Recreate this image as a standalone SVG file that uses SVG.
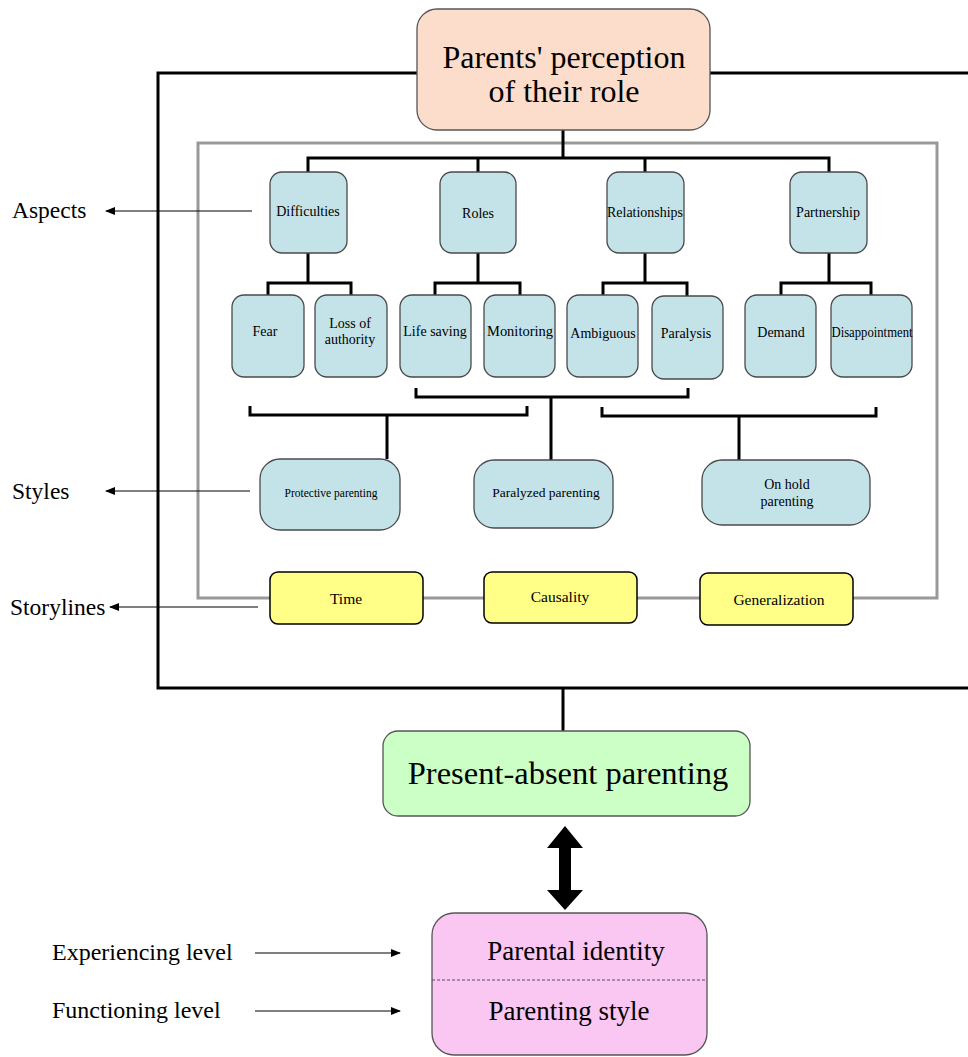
<svg xmlns="http://www.w3.org/2000/svg" width="968" height="1057" viewBox="0 0 968 1057" font-family="'Liberation Serif', 'DejaVu Serif', serif">
<style>
text{font-family:'Liberation Serif','DejaVu Serif',serif;fill:#000;text-anchor:middle}
.lbl{text-anchor:start;font-size:23.5px}
.s{font-size:14px}
.blue{fill:#c3e3e9;stroke:#4a4a4a;stroke-width:1.3}
.yel{fill:#ffff88;stroke:#000;stroke-width:1.5}
.y{font-size:15.5px}
.c{fill:none;stroke:#000;stroke-width:3}
.t{fill:none;stroke:#000;stroke-width:1.2}
</style>
<defs>
<marker id="ah" markerWidth="10" markerHeight="8" refX="9" refY="4" orient="auto" markerUnits="userSpaceOnUse">
<path d="M0,0 L10,4 L0,8 Z" fill="#000"/>
</marker>
</defs>
<rect width="968" height="1057" fill="#fff"/>
<rect id="outer-frame" x="158" y="73" width="830" height="615" fill="none" stroke="#000" stroke-width="3"/>
<rect id="inner-frame" x="198" y="143" width="739" height="455" fill="none" stroke="#999" stroke-width="3"/>
<g id="connectors">
<path class="c" d="M563,130 V158 M308,172 V158 H829 V172 M478,158 V172 M645,158 V172"/>
<path class="c" d="M308,253 V283 M268,295 V283 H351 V295"/>
<path class="c" d="M478,253 V283 M435,295 V283 H520 V295"/>
<path class="c" d="M645,253 V283 M603,295 V283 H687 V296"/>
<path class="c" d="M829,253 V283 M781,295 V283 H871 V295"/>
<path class="c" d="M250,406 V415 H527 V406 M387,415 V459"/>
<path class="c" d="M416,388 V397 H688 V388 M551,397 V460"/>
<path class="c" d="M602,407 V416 H876 V407 M739,416 V460"/>
<path class="c" d="M563,688 V731"/>
<path class="t" marker-end="url(#ah)" d="M252,211 H106"/>
<path class="t" marker-end="url(#ah)" d="M250,491 H106"/>
<path class="t" marker-end="url(#ah)" d="M258,607 H110"/>
<path class="t" marker-end="url(#ah)" d="M255,953 H400"/>
<path class="t" marker-end="url(#ah)" d="M255,1011 H400"/>
<path d="M565,826 L583,848 L571,848 L571,890 L583,890 L565,910 L547,890 L559,890 L559,848 L547,848 Z" fill="#000"/>
</g>
<g id="root">
<rect x="417" y="9" width="293" height="121" rx="20" fill="#fcdcca" stroke="#555" stroke-width="1.3"/>
<text x="564" y="68" font-size="32">Parents' perception</text>
<text x="564" y="102" font-size="32">of their role</text>
</g>
<g id="difficulties"><rect class="blue" x="270" y="172" width="77" height="81" rx="12"/><text class="s" x="308" y="216">Difficulties</text></g>
<g id="roles"><rect class="blue" x="440" y="172" width="76" height="81" rx="12"/><text class="s" x="478" y="218">Roles</text></g>
<g id="relationships"><rect class="blue" x="607" y="172" width="77" height="81" rx="12"/><text class="s" x="645" y="217" textLength="76" lengthAdjust="spacingAndGlyphs">Relationships</text></g>
<g id="partnership"><rect class="blue" x="790" y="172" width="77" height="81" rx="12"/><text class="s" x="828" y="217">Partnership</text></g>
<g id="fear"><rect class="blue" x="232" y="295" width="72" height="82" rx="12"/><text class="s" x="265" y="336">Fear</text></g>
<g id="loss"><rect class="blue" x="315" y="295" width="72" height="82" rx="12"/><text class="s" x="350" y="328">Loss of</text><text class="s" x="350" y="344">authority</text></g>
<g id="lifesaving"><rect class="blue" x="400" y="295" width="71" height="82" rx="12"/><text class="s" x="435" y="336">Life saving</text></g>
<g id="monitoring"><rect class="blue" x="484" y="295" width="71" height="82" rx="12"/><text class="s" x="520" y="336" textLength="66" lengthAdjust="spacingAndGlyphs">Monitoring</text></g>
<g id="ambiguous"><rect class="blue" x="567" y="295" width="71" height="82" rx="12"/><text class="s" x="603" y="338">Ambiguous</text></g>
<g id="paralysis"><rect class="blue" x="652" y="296" width="71" height="83" rx="12"/><text class="s" x="686" y="338">Paralysis</text></g>
<g id="demand"><rect class="blue" x="745" y="295" width="71" height="82" rx="12"/><text class="s" x="781" y="337">Demand</text></g>
<g id="disappointment"><rect class="blue" x="831" y="295" width="81" height="82" rx="12"/><text class="s" x="872" y="337" textLength="81" lengthAdjust="spacingAndGlyphs">Disappointment</text></g>
<g id="protective"><rect class="blue" x="260" y="459" width="140" height="71" rx="20"/><text x="331" y="497" font-size="11.5">Protective parenting</text></g>
<g id="paralyzed"><rect class="blue" x="474" y="460" width="139" height="68" rx="20"/><text x="546" y="497" font-size="13.5">Paralyzed parenting</text></g>
<g id="onhold"><rect class="blue" x="702" y="460" width="168" height="65" rx="20"/><text x="787" y="489" font-size="14">On hold</text><text x="787" y="506" font-size="14">parenting</text></g>
<g id="time"><rect class="yel" x="270" y="572" width="153" height="52" rx="8"/><text class="y" x="346" y="604">Time</text></g>
<g id="causality"><rect class="yel" x="484" y="572" width="153" height="51" rx="8"/><text class="y" x="560" y="602">Causality</text></g>
<g id="generalization"><rect class="yel" x="700" y="573" width="153" height="52" rx="8"/><text class="y" x="779" y="605">Generalization</text></g>
<g id="present-absent"><rect x="383" y="731" width="367" height="85" rx="15" fill="#ccffc6" stroke="#555" stroke-width="1.3"/><text x="568" y="784" font-size="32.5">Present-absent parenting</text></g>
<g id="parental">
<rect x="432" y="913" width="275" height="142" rx="22" fill="#fac6f2" stroke="#555" stroke-width="1.3"/>
<line x1="432" y1="980" x2="707" y2="980" stroke="#555" stroke-width="1.2" stroke-dasharray="3,2"/>
<text x="576" y="960" font-size="27">Parental identity</text>
<text x="569" y="1020" font-size="27">Parenting style</text>
</g>
<g id="labels">
<text class="lbl" x="12" y="218">Aspects</text>
<text class="lbl" x="12" y="499">Styles</text>
<text class="lbl" x="10" y="615">Storylines</text>
<text class="lbl" x="52" y="960" style="font-size:24px">Experiencing level</text>
<text class="lbl" x="52" y="1018" style="font-size:24px">Functioning level</text>
</g>
</svg>
